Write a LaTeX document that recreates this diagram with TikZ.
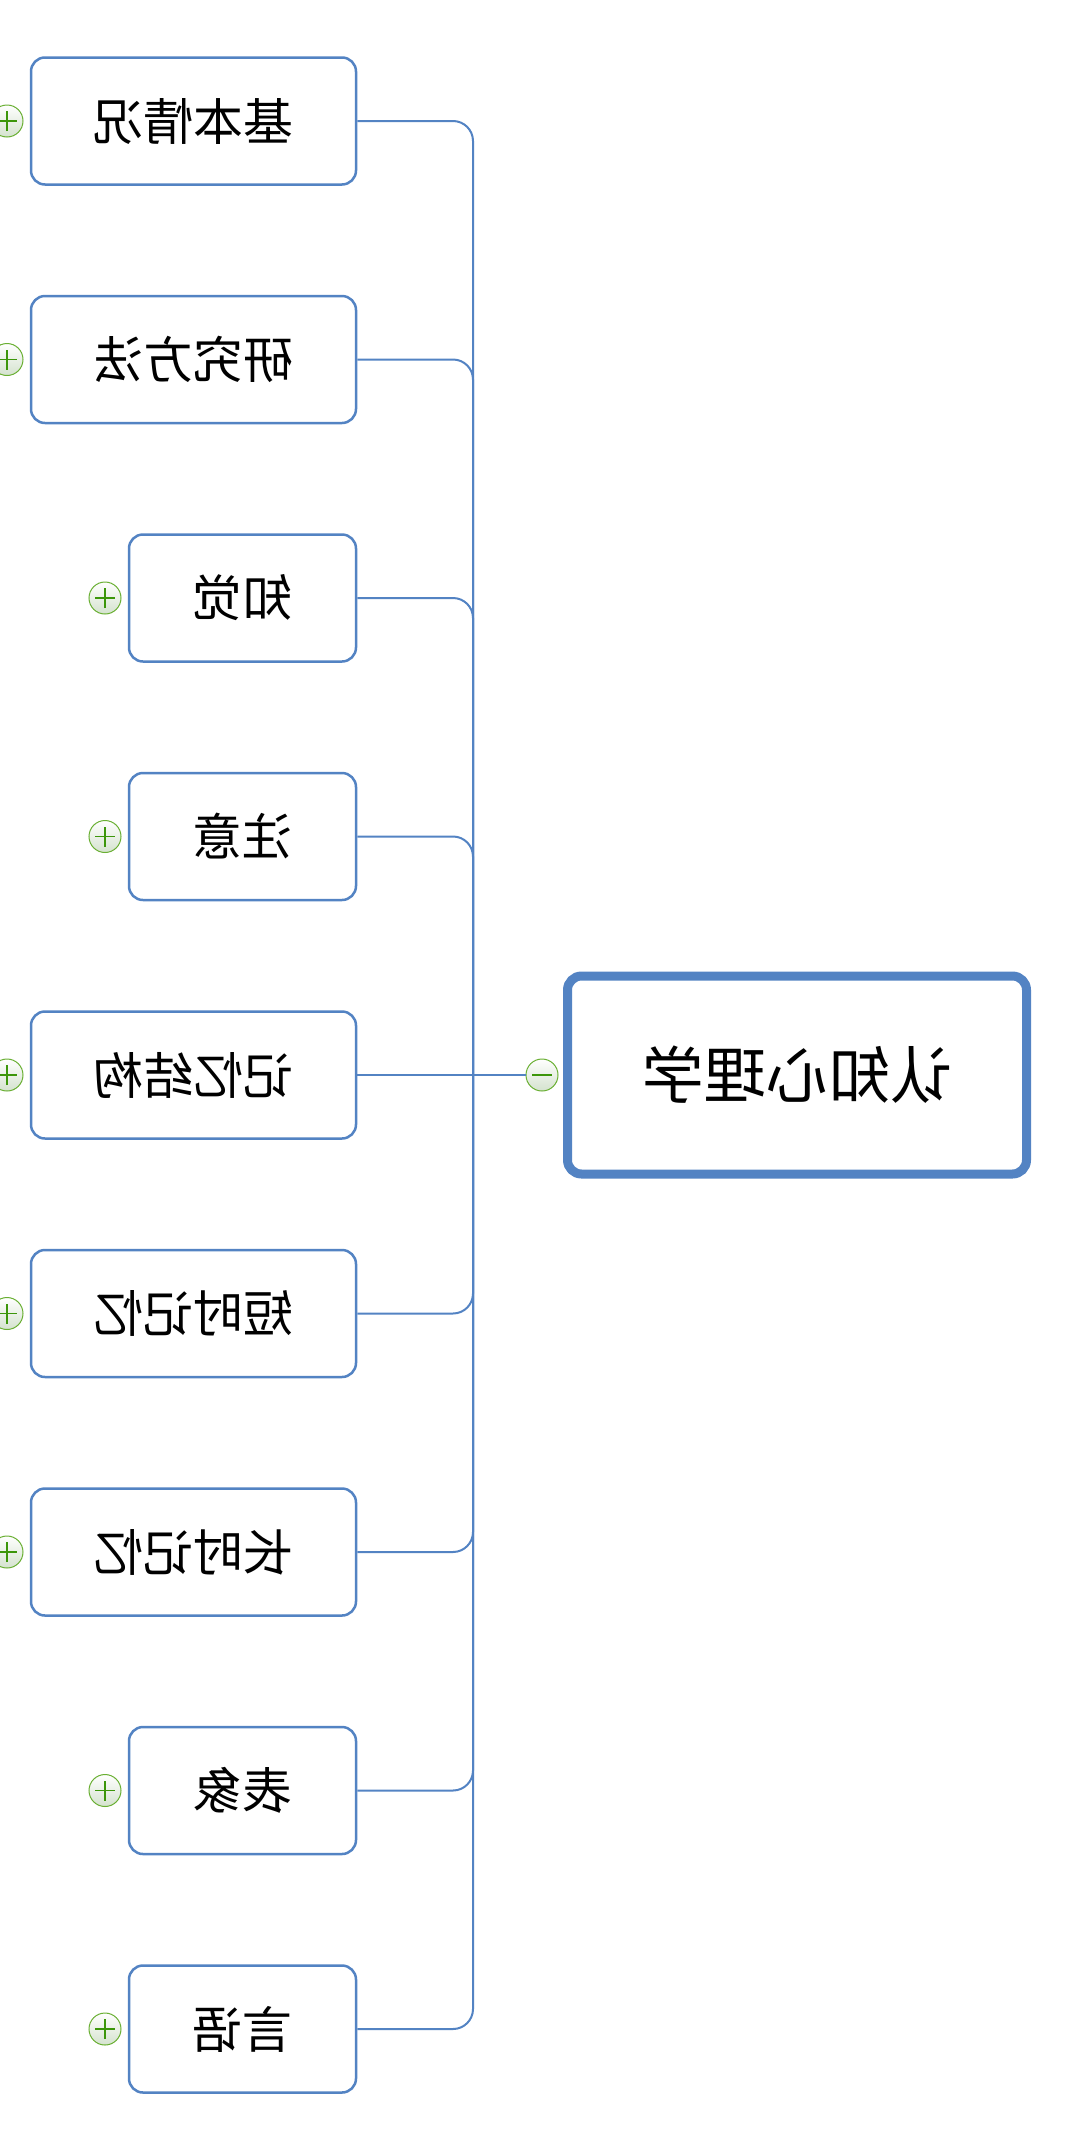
\documentclass[tikz,border=0pt]{standalone}
\usepackage{fontspec}
\newfontfamily\cjk{Noto Sans CJK SC}

\definecolor{mapblue}{RGB}{83,131,195}
\definecolor{ringgreen}{RGB}{105,175,50}
\definecolor{signgreen}{RGB}{60,150,10}
\definecolor{ringfill}{RGB}{212,226,206}

\def\flip#1{\scalebox{-1}[1]{#1}}
\def\spinex{473}

\begin{document}
\begin{tikzpicture}[
x=1pt, y=-1pt,
topic/.style={draw=mapblue, fill=white, line width=2.5pt, rounded corners=14pt,
  minimum height=127pt, inner sep=0pt, font=\cjk\fontsize{50}{50}\selectfont},
wide/.style={topic, minimum width=325pt},
narrow/.style={topic, minimum width=227pt},
root/.style={draw=mapblue, fill=white, line width=9pt, rounded corners=14pt,
  minimum width=459pt, minimum height=198pt, inner sep=0pt,
  font=\cjk\fontsize{62}{62}\selectfont},
link/.style={draw=mapblue, line width=2pt},
ring/.style={circle, draw=ringgreen, line width=1pt, top color=white,
  bottom color=ringfill, minimum size=32pt, inner sep=0pt},
plus/.style={ring, path picture={
  \draw[signgreen, line width=1.2pt] (path picture bounding box.center) ++(-10pt,0) -- ++(20pt,0);
  \draw[signgreen, line width=1.2pt] (path picture bounding box.center) ++(0,-10pt) -- ++(0,20pt);}},
minus/.style={ring, path picture={
  \draw[signgreen, line width=1.2pt] (path picture bounding box.center) ++(-10pt,0) -- ++(20pt,0);}},
]
\useasboundingbox (0,0) rectangle (1066,2150);

% Root:
\node[root] at (797,1075) (cog) {\flip{认知心理学}};
\node[minus] at (542,1075) (fold) {};
\coordinate (hub) at (\spinex,1075);

% Topics:
\node[wide] at (193.5,121) (basic) {\flip{基本情况}};
\node[wide] at (193.5,359.5) (method) {\flip{研究方法}};
\node[narrow] at (242.5,598) (percept) {\flip{知觉}};
\node[narrow] at (242.5,836.5) (attend) {\flip{注意}};
\node[wide] at (193.5,1075) (memstruct) {\flip{记忆结构}};
\node[wide] at (193.5,1313.5) (shortmem) {\flip{短时记忆}};
\node[wide] at (193.5,1552) (longmem) {\flip{长时记忆}};
\node[narrow] at (242.5,1790.5) (imagery) {\flip{表象}};
\node[narrow] at (242.5,2029) (speech) {\flip{言语}};

% Expanders:
\node[plus] at (7,121) (pbasic) {};
\node[plus] at (7,359.5) (pmethod) {};
\node[plus] at (105,598) (ppercept) {};
\node[plus] at (105,836.5) (pattend) {};
\node[plus] at (7,1075) (pmemstruct) {};
\node[plus] at (7,1313.5) (pshortmem) {};
\node[plus] at (7,1552) (plongmem) {};
\node[plus] at (105,1790.5) (pimagery) {};
\node[plus] at (105,2029) (pspeech) {};

% Links:
\draw[link] (hub) -- (fold.west);
\draw[link, rounded corners=20pt] (basic.east) -| (hub);
\draw[link, rounded corners=20pt] (method.east) -| (hub);
\draw[link, rounded corners=20pt] (percept.east) -| (hub);
\draw[link, rounded corners=20pt] (attend.east) -| (hub);
\draw[link] (memstruct.east) -- (hub);
\draw[link, rounded corners=20pt] (shortmem.east) -| (hub);
\draw[link, rounded corners=20pt] (longmem.east) -| (hub);
\draw[link, rounded corners=20pt] (imagery.east) -| (hub);
\draw[link, rounded corners=20pt] (speech.east) -| (hub);
\end{tikzpicture}
\end{document}
